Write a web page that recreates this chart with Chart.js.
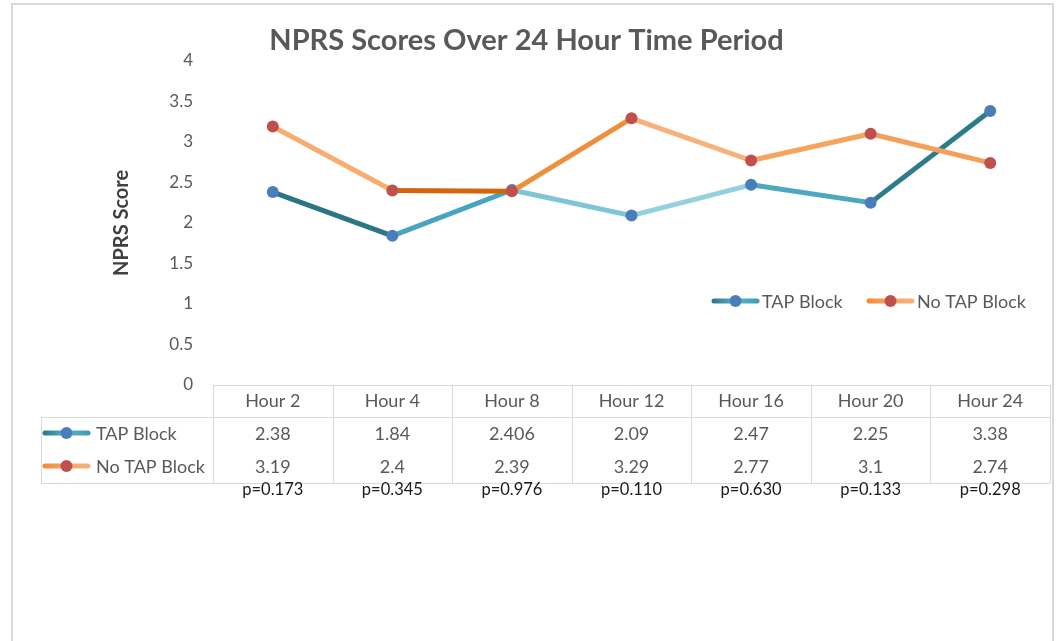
<!DOCTYPE html>
<html>
<head>
<meta charset="utf-8">
<script src="https://cdn.jsdelivr.net/npm/chart.js@4/dist/chart.umd.min.js"></script>
<style>
  html, body { margin: 0; padding: 0; background: #ffffff; }
  #wrap { width: 1056px; height: 641px; }
</style>
</head>
<body>
<div id="wrap"><canvas id="nprsChart" width="1056" height="641"></canvas></div>
<script>
// ---- Data ----
const hours      = ['Hour 2', 'Hour 4', 'Hour 8', 'Hour 12', 'Hour 16', 'Hour 20', 'Hour 24'];
const tapBlock   = [2.38, 1.84, 2.406, 2.09, 2.47, 2.25, 3.38];
const noTapBlock = [3.19, 2.4, 2.39, 3.29, 2.77, 3.1, 2.74];
const pValues    = ['p=0.173', 'p=0.345', 'p=0.976', 'p=0.110', 'p=0.630', 'p=0.133', 'p=0.298'];
const seriesNames = ['TAP Block', 'No TAP Block'];

// ---- Styles ----
const tapSegColors   = ['#2b7585', '#48a5bd', '#7ec5d6', '#93d1df', '#4ba8c0', '#2d7c8b'];
const noTapSegColors = ['#f7ad72', '#d4650e', '#ee8f3b', '#f9b07a', '#f5a35d', '#f4a05a'];
const tapMarker   = '#4a7ebb';
const noTapMarker = '#c0504d';
const textGray = '#595959';
const gridGray = '#d9d9d9';
const FONT = 'Lato, "Open Sans", sans-serif';

Chart.defaults.font.family = FONT;

function drawKey(ctx, x, y, kind) {
  // small line + dot swatch like Excel's legend key
  const g = ctx.createLinearGradient(x, 0, x + 47, 0);
  if (kind === 0) {
    g.addColorStop(0, '#2b7585'); g.addColorStop(0.5, '#5ab5cb'); g.addColorStop(1, '#3f9bb2');
  } else {
    g.addColorStop(0, '#f28a35'); g.addColorStop(0.5, '#f6a865'); g.addColorStop(1, '#f7b07a');
  }
  ctx.save();
  ctx.strokeStyle = g;
  ctx.lineWidth = 5;
  ctx.lineCap = 'round';
  ctx.beginPath();
  ctx.moveTo(x + 2, y);
  ctx.lineTo(x + 45, y);
  ctx.stroke();
  ctx.fillStyle = kind === 0 ? tapMarker : noTapMarker;
  ctx.beginPath();
  ctx.arc(x + 23.5, y, 6, 0, Math.PI * 2);
  ctx.fill();
  ctx.restore();
}

const frameAndTable = {
  id: 'frameAndTable',
  afterDraw(chart) {
    const ctx = chart.ctx;
    const x = chart.scales.x;
    const area = chart.chartArea;
    const half = (x.getPixelForValue(1) - x.getPixelForValue(0)) / 2;

    ctx.save();
    // outer frame
    ctx.strokeStyle = gridGray;
    ctx.lineWidth = 2;
    ctx.strokeRect(12, 4, 1041, 700);

    // ---- data table ----
    const top = area.bottom;
    const rowH = [32, 33, 33];
    const r1 = top + rowH[0], r2 = r1 + rowH[1], r3 = r2 + rowH[2];
    const tableLeft = 41;

    ctx.strokeStyle = gridGray;
    ctx.lineWidth = 1;
    ctx.beginPath();
    ctx.moveTo(area.left, top + 0.5); ctx.lineTo(area.right, top + 0.5);
    ctx.moveTo(tableLeft, r1 + 0.5); ctx.lineTo(area.right, r1 + 0.5);
    ctx.moveTo(tableLeft, r3 + 0.5); ctx.lineTo(area.right, r3 + 0.5);
    ctx.moveTo(tableLeft + 0.5, r1); ctx.lineTo(tableLeft + 0.5, r3);
    for (let i = 0; i <= hours.length; i++) {
      const px = Math.round(x.getPixelForValue(i) - half) + 0.5;
      ctx.moveTo(px, top); ctx.lineTo(px, r3);
    }
    ctx.stroke();

    ctx.fillStyle = textGray;
    ctx.font = '18px ' + FONT;
    ctx.textAlign = 'center';
    ctx.textBaseline = 'middle';
    hours.forEach((h, i) => {
      const cx = x.getPixelForValue(i);
      ctx.fillText(h, cx, top + 16);
      ctx.fillText(String(tapBlock[i]), cx, r1 + 17);
      ctx.fillText(String(noTapBlock[i]), cx, r2 + 17);
    });

    // row headers with legend keys
    ctx.textAlign = 'left';
    ctx.font = '18px ' + FONT;
    drawKey(ctx, 43, r1 + 16, 0);
    ctx.fillText(seriesNames[0], 96, r1 + 17);
    drawKey(ctx, 43, r2 + 16, 1);
    ctx.fillStyle = textGray;
    ctx.fillText(seriesNames[1], 96, r2 + 17);

    // p-values under the table
    ctx.fillStyle = '#1a1a1a';
    ctx.font = '16.5px ' + FONT;
    ctx.textAlign = 'center';
    pValues.forEach((p, i) => {
      ctx.fillText(p, x.getPixelForValue(i), r3 + 7);
    });

    // in-plot legend
    ctx.fillStyle = textGray;
    ctx.font = '18px ' + FONT;
    ctx.textAlign = 'left';
    drawKey(ctx, 712, 301, 0);
    ctx.fillText(seriesNames[0], 762, 302);
    drawKey(ctx, 867, 301, 1);
    ctx.fillStyle = textGray;
    ctx.fillText(seriesNames[1], 917, 302);
    ctx.restore();
  }
};

new Chart(document.getElementById('nprsChart'), {
  type: 'line',
  data: {
    labels: hours,
    datasets: [
      {
        label: seriesNames[0],
        data: tapBlock,
        borderWidth: 5,
        borderColor: tapSegColors[0],
        segment: { borderColor: c => tapSegColors[c.p0DataIndex] },
        pointRadius: 6,
        pointBackgroundColor: tapMarker,
        pointBorderWidth: 0,
        tension: 0,
        order: 2
      },
      {
        label: seriesNames[1],
        data: noTapBlock,
        borderWidth: 5,
        borderColor: noTapSegColors[0],
        segment: { borderColor: c => noTapSegColors[c.p0DataIndex] },
        pointRadius: 6,
        pointBackgroundColor: noTapMarker,
        pointBorderWidth: 0,
        tension: 0,
        order: 1
      }
    ]
  },
  options: {
    responsive: false,
    animation: false,
    layout: { padding: { top: 0, left: 0, right: 3, bottom: 256 } },
    plugins: {
      legend: { display: false },
      tooltip: { enabled: false },
      title: {
        display: true,
        text: 'NPRS Scores Over 24 Hour Time Period',
        color: textGray,
        font: { size: 29, weight: 'bold', family: FONT, lineHeight: 1.2 },
        padding: { top: 23, bottom: 3 }
      }
    },
    scales: {
      x: {
        display: false,
        offset: true
      },
      y: {
        min: 0,
        max: 4,
        ticks: {
          stepSize: 0.5,
          color: textGray,
          padding: 20,
          font: { size: 17, family: FONT },
          callback: v => String(v)
        },
        grid: { display: false, drawTicks: false },
        border: { display: false },
        title: {
          display: true,
          text: 'NPRS Score',
          color: '#404040',
          font: { size: 20, weight: 'bold', family: FONT },
          padding: { top: 110, bottom: 0 }
        },
        afterFit: scale => { scale.width = 213; }
      }
    }
  },
  plugins: [frameAndTable]
});
</script>
</body>
</html>
